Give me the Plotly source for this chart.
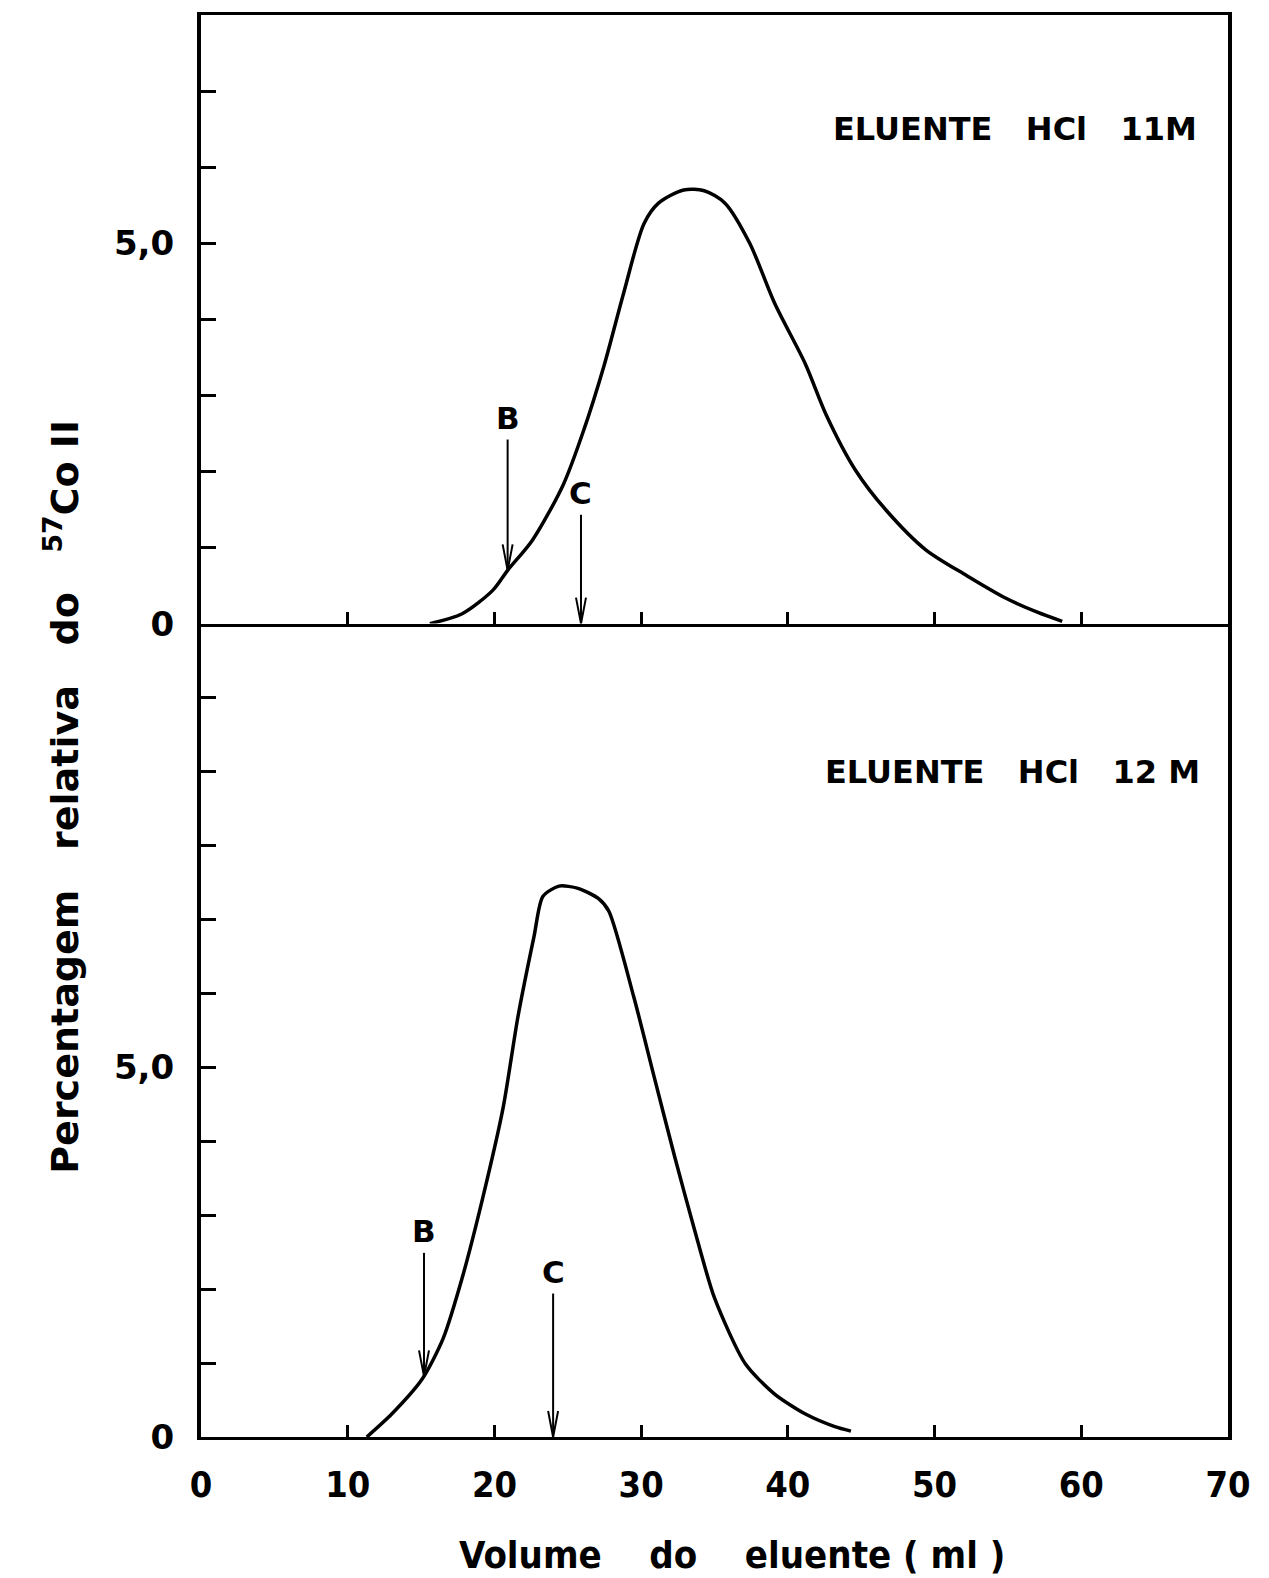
import plotly.graph_objects as go

# ---- data ----
x_top = [15.6, 17.8, 19.9, 20.9, 22.6, 24.7, 26.1, 27.5, 28.8, 30.2, 31.2, 32.9, 34.3, 35.7,
         37.4, 39.1, 41.2, 42.6, 44.6, 46.7, 49.4, 52.2, 54.9, 57.0, 58.7]
y_top = [0.0, 0.13, 0.44, 0.70, 1.10, 1.83, 2.55, 3.41, 4.34, 5.26, 5.53, 5.70, 5.69, 5.53,
         5.0, 4.21, 3.41, 2.75, 2.02, 1.49, 0.97, 0.63, 0.33, 0.15, 0.03]

x_bot = [11.3, 13.0, 15.1, 16.5, 17.8, 19.2, 20.6, 21.6, 22.7, 23.3, 24.4, 25.7, 27.1, 27.8,
         29.5, 30.9, 32.3, 33.6, 35.0, 37.1, 39.1, 41.2, 43.2, 44.3]
y_bot = [0.0, 0.31, 0.79, 1.33, 2.15, 3.23, 4.46, 5.68, 6.77, 7.31, 7.45, 7.42, 7.28, 7.11,
         5.95, 4.86, 3.78, 2.83, 1.88, 0.99, 0.58, 0.31, 0.14, 0.08]

marker_labels = ["B", "C"]
marker_x_top = [20.9, 25.9]
marker_tail_top = [2.42, 1.43]
marker_head_top = [0.70, 0.0]
marker_x_bot = [15.2, 24.0]
marker_tail_bot = [2.49, 1.94]
marker_head_bot = [0.82, 0.0]

x_ticks = [0, 10, 20, 30, 40, 50, 60, 70]
y_major = [0, 5]
y_major_labels = ["0", "5,0"]

NB = "\u00a0"
title_top = "ELUENTE" + NB * 3 + "HCl" + NB * 3 + "11M"
title_bot = "ELUENTE" + NB * 3 + "HCl" + NB * 3 + "12" + NB + "M"
x_title = ("Volume" + NB * 4 + "do" + NB * 4 + "eluente" + NB + "(" + NB + "ml" +
           NB + ")")
y_title = ("Percentagem" + NB * 3 + "relativa" + NB * 3 + "do" + NB * 3 +
           "<sup>57</sup>Co" + NB + "II")

BOLD = "DejaVu Sans"
COND = "DejaVu Sans Condensed, Liberation Sans Narrow, DejaVu Sans"

fig = go.Figure()
fig.add_trace(go.Scatter(x=x_top, y=y_top, mode="lines", xaxis="x", yaxis="y",
                         line=dict(color="black", width=3.5, shape="spline", smoothing=0.8),
                         showlegend=False, hoverinfo="skip"))
fig.add_trace(go.Scatter(x=x_bot, y=y_bot, mode="lines", xaxis="x2", yaxis="y2",
                         line=dict(color="black", width=3.5, shape="spline", smoothing=0.7),
                         showlegend=False, hoverinfo="skip"))


def add_markers(xs, tails, heads, xa, ya, ppx, ppy):
    # ppx: data units per px on x; ppy: data units per px on y
    for i, (xv, t, h) in enumerate(zip(xs, tails, heads)):
        fig.add_trace(go.Scatter(x=[xv, xv], y=[t, h], mode="lines", xaxis=xa, yaxis=ya,
                                 line=dict(color="black", width=2), showlegend=False,
                                 hoverinfo="skip"))
        hw = 5 * ppx
        hl = 26 * ppy
        fig.add_trace(go.Scatter(x=[xv - hw, xv, xv + hw], y=[h + hl, h, h + hl], mode="lines",
                                 xaxis=xa, yaxis=ya, line=dict(color="black", width=2),
                                 showlegend=False, hoverinfo="skip"))
        fig.add_annotation(x=xv, y=t, xref=xa, yref=ya, text="<b>%s</b>" % marker_labels[i],
                           showarrow=False, yanchor="bottom", yshift=2,
                           font=dict(family=BOLD, size=31, color="black"))


add_markers(marker_x_top, marker_tail_top, marker_head_top, "x", "y", 70 / 1027, 8 / 610)
add_markers(marker_x_bot, marker_tail_bot, marker_head_bot, "x2", "y2", 70 / 1027, 11 / 815)

split = 0.572
axis_common = dict(showgrid=False, zeroline=False, showline=True,
                   linecolor="black", ticks="inside", tickcolor="black")
minor_y = dict(dtick=1, ticks="inside", ticklen=15, tickwidth=3, tickcolor="black",
               showgrid=False)

fig.update_layout(
    width=1269, height=1578,
    margin=dict(l=201, r=41, t=12, b=141),
    paper_bgcolor="white", plot_bgcolor="white",
    xaxis=dict(domain=[0, 1], anchor="y", range=[0, 70], tickvals=x_ticks, mirror=True,
               showticklabels=False, linewidth=2.5, ticklen=12, tickwidth=2.5, **axis_common),
    yaxis=dict(domain=[split, 1], anchor="x", range=[0, 8], tickvals=y_major, mirror=True,
               ticktext=y_major_labels, linewidth=4, ticklen=15, tickwidth=3,
               ticklabelstandoff=16, minor=minor_y,
               tickfont=dict(family=BOLD, size=34, color="black", weight="bold"),
               **axis_common),
    xaxis2=dict(domain=[0, 1], anchor="y2", range=[0, 70], tickvals=x_ticks, mirror=False,
                linewidth=3, ticklen=12, tickwidth=2.5, ticklabelstandoff=14,
                tickfont=dict(family=COND, size=36, color="black", weight="bold"),
                **axis_common),
    yaxis2=dict(domain=[0, split], anchor="x2", range=[0, 11], tickvals=y_major, mirror=True,
                ticktext=y_major_labels, linewidth=4, ticklen=15, tickwidth=3,
                ticklabelstandoff=16, minor=minor_y,
                tickfont=dict(family=BOLD, size=34, color="black", weight="bold"),
                **axis_common),
)

fig.add_annotation(xref="x", yref="y", x=68.0, y=6.5, text="<b>%s</b>" % title_top,
                   showarrow=False, xanchor="right", yanchor="middle",
                   font=dict(family=BOLD, size=32, color="black"))
fig.add_annotation(xref="x2", yref="y2", x=68.2, y=9.0, text="<b>%s</b>" % title_bot,
                   showarrow=False, xanchor="right", yanchor="middle",
                   font=dict(family=BOLD, size=32, color="black"))
fig.add_annotation(xref="paper", yref="paper", x=0.517, y=-0.083, text="<b>%s</b>" % x_title,
                   showarrow=False, xanchor="center", yanchor="middle",
                   font=dict(family=COND, size=38, color="black"))
fig.add_annotation(xref="paper", yref="paper", x=-0.135, y=0.4505, text="<b>%s</b>" % y_title,
                   showarrow=False, xanchor="center", yanchor="middle", textangle=-90,
                   font=dict(family=BOLD, size=38, color="black"))

fig.write_html("out.html")
